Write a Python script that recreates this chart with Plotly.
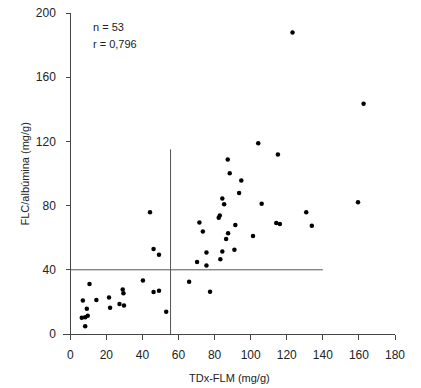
import plotly.graph_objects as go

# TDx-FLM (mg/g)
tdx_flm = [10.7, 7.0, 14.5, 9.2, 6.4, 8.3, 9.7, 8.3, 21.5, 22.1, 27.3, 29.8, 29.1, 29.5,
           40.3, 46.2, 49.2, 53.2, 65.9, 44.2, 46.2, 49.2,
           94.8, 93.6, 84.3, 85.3, 106.1, 82.9, 82.3, 71.6, 91.5, 73.5, 87.5, 86.4, 101.3,
           75.5, 84.3, 91.0, 70.3, 75.5, 83.2, 77.5,
           104.2, 87.3, 88.4,
           162.6, 115.1, 159.5, 130.8, 114.2, 116.2, 133.9, 123.2]
# FLC/albúmina (mg/g)
flc_alb = [31.2, 20.8, 21.2, 15.8, 10.2, 10.4, 11.3, 4.8, 22.7, 16.4, 18.7, 17.7, 27.7, 25.4,
           33.3, 26.2, 26.9, 13.9, 32.5, 75.8, 52.9, 49.4,
           95.6, 87.9, 84.4, 80.8, 81.2, 73.9, 72.5, 69.4, 67.9, 63.9, 62.7, 59.2, 61.1,
           50.8, 51.4, 52.5, 44.8, 42.7, 46.5, 26.3,
           118.9, 108.8, 100.2,
           143.5, 111.9, 82.1, 75.8, 69.2, 68.5, 67.5, 187.9]

x_ticks = [0, 20, 40, 60, 80, 100, 120, 140, 160, 180]
y_ticks = [0, 40, 80, 120, 160, 200]

x_title = "TDx-FLM (mg/g)"
y_title = "FLC/albúmina (mg/g)"

cut_x = 55.6     # vertical cut-off (TDx-FLM)
cut_x_top = 115  # extent of vertical line
cut_y = 40       # horizontal cut-off (FLC/albúmina)
cut_y_right = 140

annot_lines = ["n = 53", "r = 0,796"]
annot_y = [191.5, 181]

x_range = [-4, 180]
y_range = [0, 200]

fig = go.Figure()
fig.add_trace(go.Scatter(
    x=tdx_flm, y=flc_alb, mode="markers",
    marker=dict(color="black", size=4.5),
    showlegend=False, hoverinfo="x+y"))

line_col = "#555555"
fig.add_shape(type="line", x0=cut_x, x1=cut_x, y0=0, y1=cut_x_top,
              line=dict(color=line_col, width=1))
fig.add_shape(type="line", x0=0, x1=cut_y_right, y0=cut_y, y1=cut_y,
              line=dict(color=line_col, width=1))

for txt, yy in zip(annot_lines, annot_y):
    fig.add_annotation(x=11.6, y=yy, text=txt, showarrow=False,
                       xanchor="left", yanchor="middle",
                       font=dict(size=11, color="#222"))

# axis titles as annotations (paper coordinates)
fig.add_annotation(x=0.503, y=-0.137, xref="paper", yref="paper", text=x_title,
                   showarrow=False, xanchor="center", yanchor="middle",
                   font=dict(size=11, color="#222"))
fig.add_annotation(x=-0.1145, y=0.50, xref="paper", yref="paper", text=y_title,
                   showarrow=False, xanchor="center", yanchor="middle", textangle=-90,
                   font=dict(size=11, color="#222"))

font_fam = "Arial, Liberation Sans, sans-serif"
fig.update_layout(
    width=421, height=388,
    margin=dict(l=63, r=26, t=13, b=54, autoexpand=False),
    plot_bgcolor="white", paper_bgcolor="white",
    font=dict(family=font_fam, size=12, color="#222"),
    xaxis=dict(range=x_range, tickvals=x_ticks, showgrid=False, zeroline=False,
               showline=True, linecolor="#444", linewidth=1,
               ticks="outside", ticklen=5, tickcolor="#444",
               ticklabelstandoff=5, automargin=False, ticklabeloverflow="allow"),
    yaxis=dict(range=y_range, tickvals=y_ticks, showgrid=False, zeroline=False,
               showline=True, linecolor="#444", linewidth=1,
               ticks="outside", ticklen=4, tickcolor="#444",
               ticklabelstandoff=8, automargin=False, ticklabeloverflow="allow",
               anchor="free", position=4 / 184),
)

fig.write_html("out.html",
               config={"displayModeBar": False},
               post_script="document.body.style.margin='0';document.body.style.overflow='hidden';")
